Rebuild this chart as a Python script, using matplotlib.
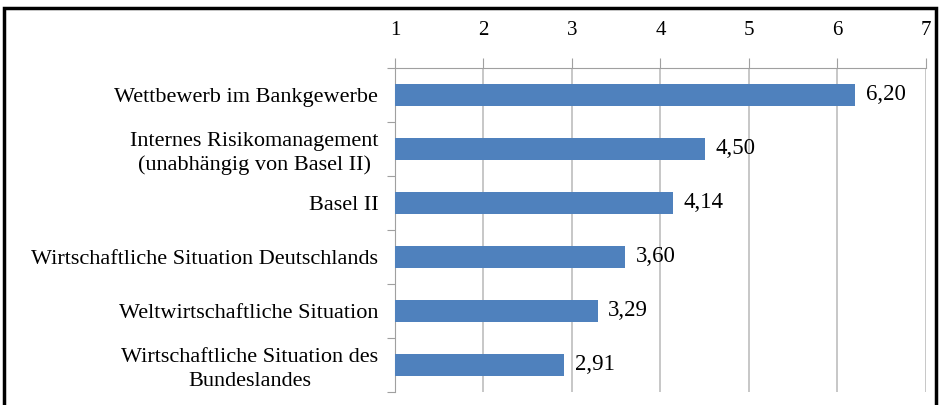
import matplotlib
matplotlib.use("Agg")
import matplotlib.pyplot as plt
from matplotlib.patches import Rectangle

# Daten (von oben nach unten)
labels = ["Wettbewerb im Bankgewerbe",
          "Internes Risikomanagement\n(unabhängig von Basel II)",
          "Basel II",
          "Wirtschaftliche Situation Deutschlands",
          "Weltwirtschaftliche Situation",
          "Wirtschaftliche Situation des\nBundeslandes"]
values = [6.20, 4.50, 4.14, 3.60, 3.29, 2.91]
xticks = [1, 2, 3, 4, 5, 6, 7]

plt.rcParams['font.family'] = ['Liberation Serif', 'DejaVu Serif']

fig = plt.figure(figsize=(9.43, 4.05), dpi=100)
ax = fig.add_axes([395/943, 1 - 392/405, (926 - 395)/943, (392 - 68)/405])

pos = list(range(len(values)))
ax.barh(pos, [v - 1 for v in values], left=1, height=0.41,
        color='#4F81BD', zorder=3)

# Werte mit Dezimalkomma
for p, v in zip(pos, values):
    ax.text(v + 0.12, p, ('%.2f' % v).replace('.', ','),
            va='center', ha='left', fontsize=16.5, zorder=4)

ax.set_xlim(1, 7)
ax.set_ylim(len(values) - 0.5, -0.5)
ax.xaxis.tick_top()
ax.set_xticks(xticks)
ax.set_xticklabels([str(t) for t in xticks], fontsize=15)
ax.tick_params(axis='x', length=7, color='#A0A0A0', pad=13)

# Kategorie-Ticks an den Grenzen, Beschriftung in der Mitte
ax.set_yticks([p - 0.5 for p in pos] + [len(values) - 0.5])
ax.set_yticklabels([])
ax.set_yticks(pos, minor=True)
ax.set_yticklabels(labels, minor=True, fontsize=16, multialignment='center',
                   linespacing=1.3)
ax.tick_params(axis='y', which='major', length=6, color='#A0A0A0')
ax.tick_params(axis='y', which='minor', length=0, pad=12)

ax.grid(axis='x', color='#BEBEBE', linewidth=1.2, zorder=0)
ax.spines['right'].set_visible(False)
ax.spines['bottom'].set_visible(False)
ax.spines['top'].set_color('#A0A0A0')
ax.spines['left'].set_color('#A0A0A0')

# Rahmen um die Grafik
fig.patches.append(Rectangle((4/943, -0.05), (936 - 4)/943, 1.05 - 8/405,
                             transform=fig.transFigure, fill=False,
                             edgecolor='black', linewidth=2.5))

fig.savefig("out.png", dpi=100)
